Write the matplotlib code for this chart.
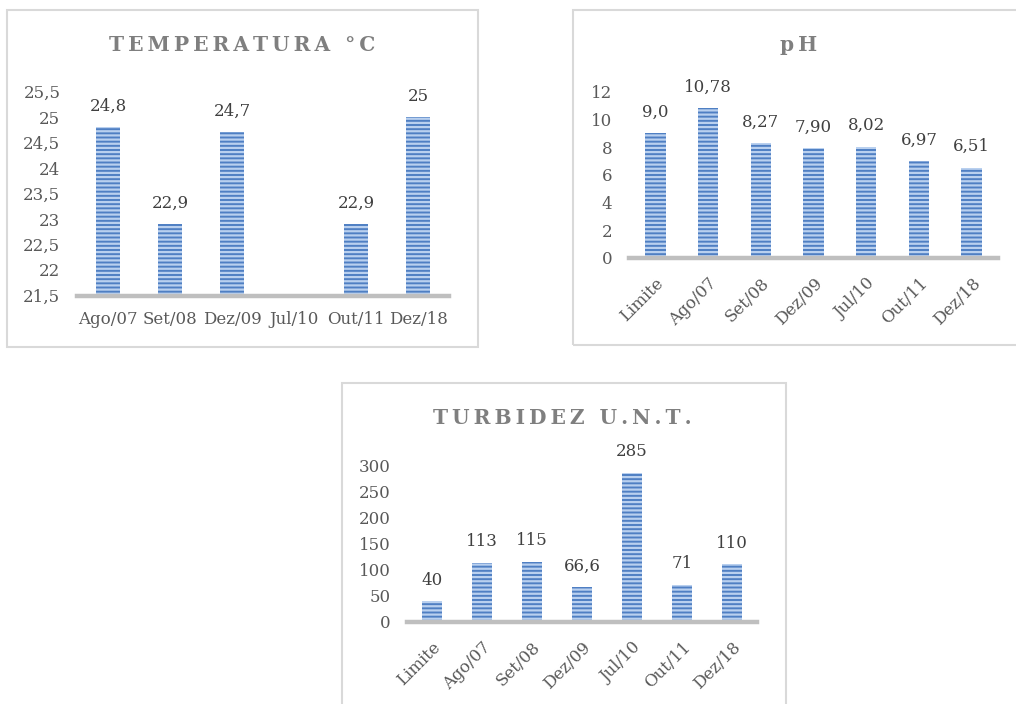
import numpy as np
import matplotlib
matplotlib.use('Agg')
from matplotlib import pyplot as plt
from matplotlib.patches import Rectangle

# Temperature (no reading for Jul/10)
temp_dates = ['Ago/07', 'Set/08', 'Dez/09', 'Jul/10', 'Out/11', 'Dez/18']
temp_labels = ['24,8', '22,9', '24,7', '', '22,9', '25']
temp_values = [24.8, 22.9, 24.7, np.nan, 22.9, 25.0]
temp_ticks = [21.5, 22, 22.5, 23, 23.5, 24, 24.5, 25, 25.5]

# pH
ph_dates = ['Limite', 'Ago/07', 'Set/08', 'Dez/09', 'Jul/10', 'Out/11', 'Dez/18']
ph_labels = ['9,0', '10,78', '8,27', '7,90', '8,02', '6,97', '6,51']
ph_values = [9.0, 10.78, 8.27, 7.90, 8.02, 6.97, 6.51]
ph_ticks = [0, 2, 4, 6, 8, 10, 12]

# Turbidity
turb_dates = ['Limite', 'Ago/07', 'Set/08', 'Dez/09', 'Jul/10', 'Out/11', 'Dez/18']
turb_labels = ['40', '113', '115', '66,6', '285', '71', '110']
turb_values = [40, 113, 115, 66.6, 285, 71, 110]
turb_ticks = [0, 50, 100, 150, 200, 250, 300]

W, H = 1016, 704
BAR = '#4f7fc3'
STRIPE = '#b9d0ef'
GRID = '#bfbfbf'
TICK = '#595959'
LABEL = '#404040'
TITLE = '#7f7f7f'
FONT = ['DejaVu Serif', 'DejaVu Sans']

plt.rcParams['font.family'] = FONT
plt.rcParams['hatch.linewidth'] = 1.6


def fmt(v):
    s = ('%g' % v)
    return s.replace('.', ',')


def spaced(text):
    return '\u2009'.join(text)


def box(fig, x0, y0, x1, y1):
    r = Rectangle((x0 / W, 1 - y1 / H), (x1 - x0) / W, (y1 - y0) / H,
                  transform=fig.transFigure, fill=False,
                  edgecolor='#d9d9d9', linewidth=1.5)
    fig.patches.append(r)


def panel(fig, px, py, dates, values, labels, ticks, bottom, rotate):
    # px, py: pixel extents of the plot area (x0, x1) and (y_top, y_bottom)
    ax = fig.add_axes([px[0] / W, 1 - py[1] / H,
                       (px[1] - px[0]) / W, (py[1] - py[0]) / H])
    x = np.arange(len(dates))
    vals = np.array(values, dtype=float)
    bars = ax.bar(x, vals - bottom, bottom=bottom, width=0.39,
                  color=BAR, edgecolor=STRIPE, linewidth=0, hatch='----')
    for b, v, lab in zip(bars, vals, labels):
        if np.isnan(v):
            continue
        ax.annotate(lab, (b.get_x() + b.get_width() / 2, v),
                    xytext=(0, 9), textcoords='offset points',
                    ha='center', va='bottom', fontsize=12, color=LABEL)
    ax.set_xlim(-0.5, len(dates) - 0.5)
    ax.set_ylim(ticks[0], ticks[-1])
    ax.set_yticks(ticks)
    ax.set_yticklabels([fmt(t) for t in ticks])
    ax.axhline(ticks[0], color=GRID, linewidth=3.2, clip_on=False, zorder=3)
    for s in ax.spines.values():
        s.set_visible(False)
    ax.tick_params(axis='both', length=0, labelsize=12, colors=TICK)
    ax.tick_params(axis='y', pad=12)
    ax.set_xticks(x)
    if rotate:
        ax.set_xticklabels(dates, rotation=45, ha='right',
                           rotation_mode='anchor')
        ax.tick_params(axis='x', pad=12)
    else:
        ax.set_xticklabels(dates)
        ax.tick_params(axis='x', pad=11)
    ax.patch.set_alpha(0)
    return ax


fig = plt.figure(figsize=(W / 100, H / 100), dpi=100)

box(fig, 7, 10, 478, 347)
box(fig, 573, 10, 1030, 345)
box(fig, 342, 383, 786, 720)

panel(fig, (77, 449), (91.5, 295.5), temp_dates, temp_values, temp_labels,
      temp_ticks, temp_ticks[0], False)
panel(fig, (629, 998), (91.5, 258), ph_dates, ph_values, ph_labels,
      ph_ticks, 0, True)
panel(fig, (407, 757), (465, 622), turb_dates, turb_values, turb_labels,
      turb_ticks, 0, True)

fig.text(242 / W, 1 - 45 / H, spaced('TEMPERATURA °C'), ha='center',
         va='center', fontsize=14.5, fontweight='bold', color=TITLE)
fig.text(799 / W, 1 - 45 / H, 'p\u2009H', ha='center', va='center',
         fontsize=14.5, fontweight='bold', color=TITLE)
fig.text(562 / W, 1 - 418 / H, spaced('TURBIDEZ U.N.T.'), ha='center',
         va='center', fontsize=14.5, fontweight='bold', color=TITLE)

fig.savefig('out.png', dpi=100, facecolor='white')
